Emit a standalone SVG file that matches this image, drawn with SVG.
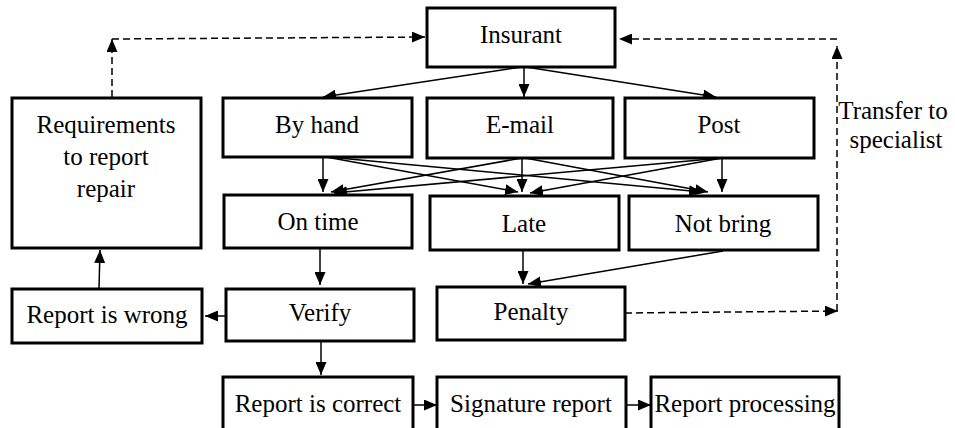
<svg xmlns="http://www.w3.org/2000/svg" width="955" height="428" viewBox="0 0 955 428">
<style>
.box{fill:#fff;stroke:#000;stroke-width:3}
.t{font-family:"Liberation Serif","Times New Roman",serif;font-size:25px;fill:#000;text-anchor:middle}
.c{fill:none;stroke:#000;stroke-width:1.5}
.d{fill:none;stroke:#000;stroke-width:1.5;stroke-dasharray:7,4}
</style>
<defs>
<marker id="a" markerUnits="userSpaceOnUse" markerWidth="13" markerHeight="11" viewBox="0 0 13 11" refX="13" refY="5.5" orient="auto">
<path d="M0,0 L13,5.5 L0,11 z" fill="#000"/>
</marker>
</defs>
<rect width="955" height="428" fill="#fff"/>
<g id="connectors">
<path class="c" marker-end="url(#a)" d="M522,67 L323,97"/>
<path class="c" marker-end="url(#a)" d="M524,67 L524,97"/>
<path class="c" marker-end="url(#a)" d="M526,67 L716,97"/>
<path class="c" marker-end="url(#a)" d="M323,157 L323,192"/>
<path class="c" marker-end="url(#a)" d="M326,157 L518,192"/>
<path class="c" marker-end="url(#a)" d="M328,157 L702,192"/>
<path class="c" marker-end="url(#a)" d="M522,158 L331,192"/>
<path class="c" marker-end="url(#a)" d="M522,158 L522,192"/>
<path class="c" marker-end="url(#a)" d="M525,158 L708,192"/>
<path class="c" marker-end="url(#a)" d="M722,158 L334,193"/>
<path class="c" marker-end="url(#a)" d="M722,158 L530,193"/>
<path class="c" marker-end="url(#a)" d="M722,158 L722,192"/>
<path class="c" marker-end="url(#a)" d="M320,248 L320,285"/>
<path class="c" marker-end="url(#a)" d="M226,316 L205,316"/>
<path class="c" marker-end="url(#a)" d="M99,288 L100,250"/>
<path class="c" marker-end="url(#a)" d="M321,341 L321,375"/>
<path class="c" marker-end="url(#a)" d="M523,250 L523,284"/>
<path class="c" marker-end="url(#a)" d="M723,251 L528,284"/>
<path class="c" marker-end="url(#a)" d="M413,405 L437,405"/>
<path class="c" marker-end="url(#a)" d="M626,405 L651,405"/>
<path class="d" marker-end="url(#a)" d="M112,97 L112,39"/>
<path class="d" marker-end="url(#a)" d="M112,39 L425,37"/>
<path class="d" marker-end="url(#a)" d="M625,313 L838,311"/>
<path class="d" marker-end="url(#a)" d="M837,311 L837,46"/>
<path class="d" marker-end="url(#a)" d="M837,39 L619,39"/>
</g>
<g id="insurant"><rect class="box" x="427" y="8" width="188" height="59"/><text class="t" x="521" y="43">Insurant</text></g>
<g id="byhand"><rect class="box" x="223" y="98" width="189" height="59"/><text class="t" x="317" y="133">By hand</text></g>
<g id="email"><rect class="box" x="427" y="98" width="186" height="60"/><text class="t" x="520" y="133">E-mail</text></g>
<g id="post"><rect class="box" x="625" y="98" width="189" height="60"/><text class="t" x="719" y="133">Post</text></g>
<g id="requirements"><rect class="box" x="12" y="98" width="189" height="150"/><text class="t" x="106" y="133">Requirements</text><text class="t" x="106" y="165">to report</text><text class="t" x="106" y="197">repair</text></g>
<g id="ontime"><rect class="box" x="224" y="195" width="188" height="53"/><text class="t" x="318" y="230">On time</text></g>
<g id="late"><rect class="box" x="430" y="196" width="189" height="54"/><text class="t" x="524" y="232">Late</text></g>
<g id="notbring"><rect class="box" x="629" y="196" width="189" height="54"/><text class="t" x="723" y="232">Not bring</text></g>
<g id="wrong"><rect class="box" x="12" y="289" width="190" height="54"/><text class="t" x="107" y="323">Report is wrong</text></g>
<g id="verify"><rect class="box" x="226" y="289" width="188" height="52"/><text class="t" x="320" y="321">Verify</text></g>
<g id="penalty"><rect class="box" x="437" y="287" width="188" height="53"/><text class="t" x="531" y="320">Penalty</text></g>
<g id="correct"><rect class="box" x="223" y="377" width="190" height="70"/><text class="t" x="318" y="412">Report is correct</text></g>
<g id="signature"><rect class="box" x="437" y="377" width="189" height="70"/><text class="t" x="531" y="412">Signature report</text></g>
<g id="processing"><rect class="box" x="651" y="377" width="188" height="70"/><text class="t" x="745" y="412">Report processing</text></g>
<g id="transfer-label"><text class="t" x="893" y="119">Transfer to</text><text class="t" x="896" y="148">specialist</text></g>
</svg>
